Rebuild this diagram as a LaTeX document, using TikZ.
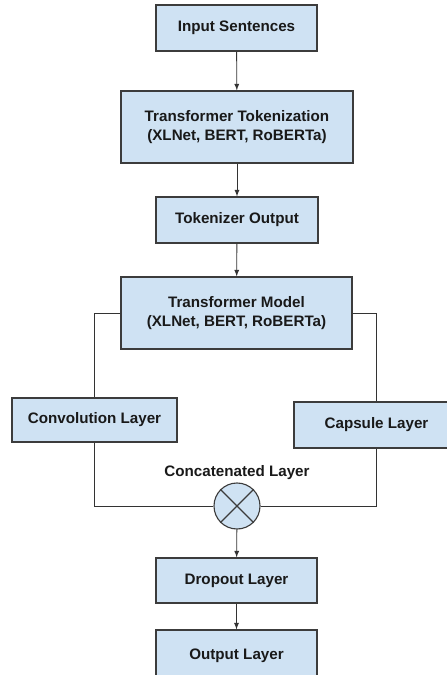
\documentclass[tikz,border=0pt]{standalone}
\usepackage{fontspec}
\setmainfont{Liberation Sans}
\usepackage{tikz}
\definecolor{boxblue}{RGB}{207,226,243}
\definecolor{edgegray}{RGB}{60,60,60}
\tikzset{
  layer/.style={draw=edgegray, fill=boxblue, line width=0.8pt, align=center,
    font=\fontsize{10.8}{13.5}\selectfont\bfseries, text=black!90, inner sep=2pt},
  link/.style={draw=black!80, line width=0.6pt},
  flow/.style={link, -latex}
}

\begin{document}
\begin{tikzpicture}[x=0.025cm, y=-0.025cm]
    \useasboundingbox (0,0) rectangle (446,675);
    % Layers of the network, top to bottom
    \node[layer, minimum width=4.025cm, minimum height=1.15cm] (input) at (236.5,28) {Input Sentences};
    \node[layer, minimum width=5.8cm, minimum height=1.8cm] (tokenize) at (237,127) {Transformer Tokenization\\(XLNet, BERT, RoBERTa)};
    \node[layer, minimum width=4.05cm, minimum height=1.15cm] (tokout) at (237,220) {Tokenizer Output};
    \node[layer, minimum width=5.775cm, minimum height=1.8cm] (model) at (236.5,313) {Transformer Model\\(XLNet, BERT, RoBERTa)};
    \node[layer, minimum width=4.125cm, minimum height=1.1cm] (conv) at (94.5,420) {Convolution Layer};
    \node[layer, minimum width=4.125cm, minimum height=1.15cm] (capsule) at (376.5,425) {Capsule Layer};
    \node[layer, circle, minimum size=1.15cm, inner sep=0pt] (concat) at (237,506) {};
    \node[font=\fontsize{10.8}{13.5}\selectfont\bfseries, text=black!90] (concatlabel) at (237,473) {Concatenated Layer};
    \node[layer, minimum width=4.025cm, minimum height=1.125cm] (dropout) at (236.5,580.5) {Dropout Layer};
    \node[layer, minimum width=4.025cm, minimum height=1.3cm] (output) at (236.5,656) {Output Layer};

    % Cross in the concatenation circle
    \draw[edgegray, line width=0.8pt] (concat.north west) -- (concat.south east);
    \draw[edgegray, line width=0.8pt] (concat.north east) -- (concat.south west);

    % Connections
    \draw[flow] (input) -- (tokenize);
    \draw[flow] (tokenize) -- (tokout);
    \draw[flow] (tokout) -- (model);
    \draw[link] (model.west) -| (conv.north);
    \draw[link] (model.east) -| (capsule.north);
    \draw[link] (conv.south) |- (concat.west);
    \draw[link] (capsule.south) |- (concat.east);
    \draw[flow] (concat) -- (dropout);
    \draw[flow] (dropout) -- (output);
\end{tikzpicture}
\end{document}
